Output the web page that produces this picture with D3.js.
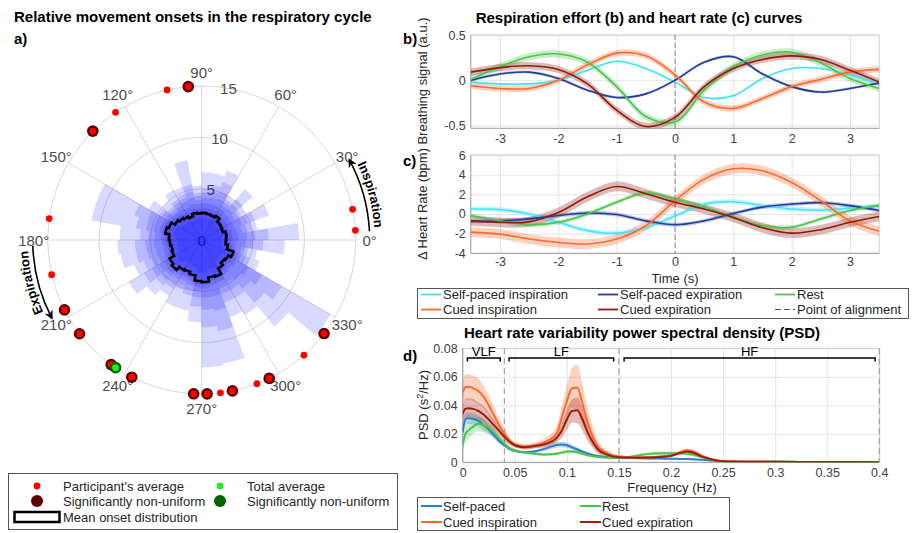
<!DOCTYPE html>
<html lang="en">
<head>
  <meta charset="UTF-8">
  <title>Respiration, heart rate and movement onsets</title>
  <script src="https://d3js.org/d3.v7.min.js"></script>
  <style>
    body { margin: 0; background: #fff; }
    svg { display: block; font-family: "Liberation Sans", Arial, sans-serif; }
  </style>
</head>
<body>
  <svg id="fig" width="914" height="533"></svg>

  <script>
    // ---------- panel a: polar histogram of onsets ----------
    const binDeg = 10;
    // per-participant onset histograms (counts per 10 deg bin), drawn as translucent layers
    const histLayer1 = [9.5,5.5,7.0,5.0,6.5,5.0,7.2,6.6,6.6,5.3,7.9,5.5,5.6,5.0,6.0,10.9,10.9,8.0,8.2,8.0,7.0,8.2,7.0,6.3,7.0,7.0,8.0,12.4,12.2,8.0,8.4,11.0,14.5,6.0,5.5,8.1];
    const histLayer2 = [6.5,5.0,5.5,4.5,5.2,4.6,6.0,5.5,5.0,4.6,5.5,4.8,4.6,4.3,4.8,7.0,6.5,6.0,6.5,6.5,6.0,6.5,5.8,5.5,5.2,5.5,6.5,8.5,9.0,6.5,6.5,8.0,9.0,5.0,4.6,6.0];
    const histLayer3 = [5.2,4.5,4.8,4.2,4.6,4.3,5.0,4.8,4.6,4.3,4.8,4.4,4.3,4.0,4.5,5.6,5.5,5.2,5.5,5.4,5.2,5.6,5.2,5.0,4.8,5.0,5.6,6.8,7.0,5.6,5.6,6.2,6.8,4.6,4.3,5.0];
    const histLayer4 = [4.4,4.0,4.2,3.8,4.0,3.9,4.3,4.2,4.1,3.9,4.2,4.0,3.9,3.7,4.1,4.8,4.8,4.6,4.7,4.6,4.5,4.8,4.6,4.4,4.3,4.5,5.0,5.6,5.6,4.9,4.8,5.0,5.3,4.1,3.9,4.3];
    const histLayer5 = [3.6,3.5,3.4,3.3,3.4,3.5,3.6,3.6,3.6,3.5,3.6,3.4,3.5,3.5,3.7,4.1,4.2,4.0,3.9,3.8,3.9,4.2,4.3,4.0,3.9,4.1,4.6,4.8,4.5,4.4,4.0,3.8,3.9,3.8,3.4,3.3];
    const histLayer6 = [3.0,3.0,2.8,2.9,2.9,3.1,3.0,3.1,3.1,3.0,3.1,2.9,3.1,3.2,3.4,3.8,3.9,3.6,3.5,3.4,3.5,3.9,4.0,3.7,3.6,3.8,4.3,4.4,4.1,4.1,3.6,3.4,3.5,3.5,3.0,2.9];
    const histLayer7 = [2.6,2.6,2.4,2.5,2.5,2.7,2.6,2.6,2.7,2.6,2.7,2.5,2.7,2.8,3.0,3.3,3.4,3.1,3.0,2.9,3.0,3.4,3.5,3.2,3.1,3.3,3.8,3.9,3.5,3.6,3.1,2.8,2.9,3.1,2.5,2.4];
    const histLayer8 = [2.0,2.1,1.9,2.0,2.0,2.2,2.1,2.1,2.2,2.1,2.2,2.0,2.2,2.3,2.4,2.7,2.8,2.5,2.4,2.4,2.5,2.8,2.9,2.6,2.5,2.7,3.1,3.2,2.9,3.0,2.5,2.3,2.4,2.6,2.0,1.9];
    const meanOnset = [2.4,2.45,2.2,2.3,2.35,2.7,2.55,2.6,2.65,2.6,2.7,2.45,2.65,2.8,3.0,3.4,3.6,3.2,3.1,3.0,3.1,3.6,3.8,3.4,3.3,3.5,4.0,4.1,3.7,3.8,3.2,2.9,3.0,3.3,2.6,2.35];

    // participant average onset phase (deg) and whether the participant's distribution is non-uniform
    const participantAngles = [3.6, 11.5, 95, 103, 124, 135, 172, 193, 207, 217.5, 234, 243, 267, 272, 277, 281.5, 291, 296, 311.6, 322.6];
    const participantSig    = [0, 0, 1, 0, 0, 1, 0, 0, 1, 1, 1, 1, 1, 1, 0, 1, 0, 1, 0, 1];
    const totalAverageAngle = 236;
    const rTicks = [0, 5, 10, 15];
    const thetaTicks = [0, 30, 60, 90, 120, 150, 180, 210, 240, 270, 300, 330];

    // ---------- panels b, c: breathing and heart rate around movement onset ----------
    const timeS = [-3.5,-3,-2.5,-2,-1.5,-1,-0.5,0,0.5,1,1.5,2,2.5,3,3.5];
    const breathSelfIns = [-0.02,-0.04,-0.04,0.0,0.11,0.21,0.13,-0.02,-0.19,-0.17,0.02,0.13,0.13,0.06,-0.04];
    const breathSelfExp = [0.0,0.07,0.09,0.02,-0.11,-0.19,-0.15,0.0,0.2,0.26,0.07,-0.07,-0.13,-0.09,-0.03];
    const breathRest    = [0.01,0.15,0.26,0.29,0.2,-0.07,-0.40,-0.46,-0.11,0.15,0.28,0.31,0.19,0.02,-0.09];
    const breathCuedIns = [-0.06,-0.09,-0.09,0.0,0.17,0.30,0.27,0.06,-0.24,-0.31,-0.2,-0.07,0.01,0.09,0.12];
    const breathCuedExp = [0.09,0.14,0.16,0.12,-0.04,-0.33,-0.51,-0.41,-0.07,0.13,0.23,0.27,0.23,0.11,-0.02];
    const hrSelfIns = [0.5,0.45,0.0,-0.85,-1.7,-1.95,-1.4,-0.2,1.0,1.25,0.85,0.5,0.4,0.6,0.85];
    const hrSelfExp = [-0.75,-0.7,-0.5,-0.15,0.1,-0.05,-0.7,-1.1,-0.7,0.05,0.7,1.0,1.15,0.85,0.35];
    const hrRest    = [-0.15,-0.7,-1.1,-0.85,0.0,1.2,2.15,1.5,0.7,-0.35,-1.2,-1.35,-0.5,0.35,0.85];
    const hrCuedIns = [-1.85,-2.05,-2.55,-2.9,-3.05,-2.55,-1.2,1.35,3.55,4.6,4.4,3.2,1.35,-0.7,-1.75];
    const hrCuedExp = [-0.7,-0.85,-0.8,0.15,1.75,2.8,2.05,1.2,0.5,-0.35,-1.4,-1.95,-1.6,-0.85,-0.25];
    // half width of the shaded error band, same order as the series
    const breathBand = [0.012, 0.015, 0.04, 0.035, 0.04];
    const hrBand = [0.25, 0.2, 0.22, 0.5, 0.5];
    const curveNames = ['Self-paced inspiration', 'Self-paced expiration', 'Rest', 'Cued inspiration', 'Cued expiration'];
    const curveColors = ['#45e3f5', '#213f9b', '#4dc24d', '#fa6a2e', '#8e1c0e'];
    const timeTicks = [-3, -2, -1, 0, 1, 2, 3];
    const breathTicks = [-0.5, 0, 0.5];
    const hrTicks = [-4, -2, 0, 2, 4, 6];

    // ---------- panel d: HRV power spectral density ----------
    const freqHz = [0,0.0025,0.005,0.01,0.015,0.02,0.025,0.03,0.035,0.04,0.045,0.05,0.06,0.07,0.08,0.09,0.095,0.1,0.105,0.11,0.115,0.12,0.125,0.13,0.14,0.15,0.16,0.17,0.18,0.19,0.2,0.21,0.215,0.22,0.23,0.24,0.25,0.27,0.3,0.35,0.4];
    const psdSelf = [0.021,0.030,0.031,0.0305,0.029,0.026,0.023,0.019,0.015,0.012,0.0095,0.008,0.007,0.0078,0.0098,0.0122,0.0125,0.012,0.0105,0.009,0.0075,0.0062,0.0052,0.0045,0.0036,0.0032,0.003,0.0028,0.0027,0.0026,0.0025,0.0024,0.0023,0.0022,0.0018,0.0012,0.0007,0.0004,0.0003,0.0002,0.0001];
    const psdRest = [0.012,0.020,0.022,0.025,0.027,0.026,0.024,0.021,0.017,0.013,0.010,0.0085,0.0068,0.006,0.0055,0.006,0.0068,0.0075,0.0075,0.007,0.006,0.005,0.0043,0.0038,0.0032,0.003,0.0038,0.005,0.006,0.0063,0.0063,0.0062,0.006,0.0055,0.0035,0.0018,0.0008,0.0004,0.0003,0.0002,0.0001];
    const psdCuedIns = [0.049,0.0525,0.053,0.052,0.050,0.046,0.040,0.033,0.026,0.020,0.015,0.0125,0.011,0.012,0.0145,0.020,0.031,0.043,0.052,0.0525,0.041,0.028,0.018,0.011,0.006,0.004,0.0035,0.0033,0.0035,0.004,0.005,0.0075,0.0085,0.008,0.0045,0.002,0.0008,0.0004,0.0003,0.0002,0.0001];
    const psdCuedExp = [0.034,0.0375,0.038,0.0375,0.036,0.0335,0.030,0.026,0.022,0.018,0.0145,0.012,0.0105,0.0115,0.013,0.017,0.022,0.030,0.036,0.0365,0.030,0.021,0.014,0.009,0.005,0.0035,0.0033,0.0032,0.0033,0.0038,0.0045,0.0068,0.0075,0.007,0.004,0.0018,0.0007,0.0004,0.0003,0.0002,0.0001];
    const bandSelf = [0.004,0.004,0.004,0.004,0.004,0.0035,0.003,0.0025,0.002,0.0015,0.0012,0.001,0.001,0.001,0.0015,0.002,0.002,0.002,0.0018,0.0015,0.0012,0.001,0.0008,0.0007,0.0006,0.0005,0.0005,0.0005,0.0005,0.0005,0.0005,0.0005,0.0005,0.0005,0.0004,0.0003,0.0002,0.0001,0.0001,0.0001,0.0001];
    const bandRest = [0.006,0.006,0.006,0.005,0.005,0.005,0.004,0.003,0.0025,0.002,0.0015,0.0012,0.001,0.001,0.001,0.001,0.001,0.0012,0.0012,0.0012,0.001,0.001,0.0008,0.0007,0.0006,0.0006,0.0008,0.001,0.0012,0.0012,0.0012,0.0012,0.0012,0.0012,0.0008,0.0004,0.0003,0.0002,0.0001,0.0001,0.0001];
    const bandCuedIns = [0.008,0.009,0.009,0.009,0.009,0.008,0.007,0.006,0.005,0.004,0.003,0.002,0.002,0.002,0.003,0.005,0.008,0.011,0.014,0.016,0.014,0.010,0.007,0.004,0.002,0.001,0.001,0.001,0.001,0.001,0.001,0.0012,0.0012,0.0012,0.001,0.0005,0.0003,0.0002,0.0001,0.0001,0.0001];
    const bandCuedExp = [0.006,0.007,0.007,0.007,0.006,0.006,0.005,0.004,0.003,0.003,0.002,0.0015,0.0015,0.0015,0.002,0.003,0.005,0.007,0.008,0.009,0.008,0.006,0.004,0.003,0.0015,0.001,0.001,0.001,0.001,0.001,0.001,0.001,0.001,0.001,0.0008,0.0004,0.0003,0.0002,0.0001,0.0001,0.0001];
    const psdNames = ['Self-paced', 'Rest', 'Cued inspiration', 'Cued expiration'];
    const psdColors = ['#2b80c8', '#4dc24d', '#fa6a2e', '#a01d0c'];
    const freqTicks = [0, 0.05, 0.1, 0.15, 0.2, 0.25, 0.3, 0.35, 0.4];
    const psdTicks = [0, 0.02, 0.04, 0.06, 0.08];
    const bandNames = ['VLF', 'LF', 'HF'];
    const bandStart = [0.0045, 0.0445, 0.155];
    const bandEnd = [0.036, 0.145, 0.396];
    const bandEdges = [0.04, 0.15, 0.4];

    const svg = d3.select('#fig');
    svg.append('rect').attr('width', 914).attr('height', 533).attr('fill', '#fff');

    function label(x, y, str, size, weight, anchor) {
      return svg.append('text').attr('x', x).attr('y', y).text(str)
        .attr('font-size', size).attr('font-weight', weight || 'normal')
        .attr('text-anchor', anchor || 'start').attr('fill', '#000');
    }

    // titles and panel letters
    label(14, 22, 'Relative movement onsets in the respiratory cycle', 15, 'bold');
    label(14, 44, 'a)', 15, 'bold');
    label(639, 23, 'Respiration effort (b) and heart rate (c) curves', 15, 'bold', 'middle');
    label(403, 44, 'b)', 15, 'bold');
    label(403, 166, 'c)', 15, 'bold');
    label(642, 338, 'Heart rate variability power spectral density (PSD)', 15, 'bold', 'middle');
    label(403, 361, 'd)', 15, 'bold');

    // ================= panel a =================
    const cx = 201.7, cy = 240;
    const rs = d3.scaleLinear().domain([0, 15]).range([0, 154]);
    const ang = deg => (90 - deg) * Math.PI / 180;   // d3 radial angle from math degrees
    const polar = svg.append('g').attr('transform', `translate(${cx},${cy})`);

    // grid
    polar.selectAll('circle.grid').data(rTicks.slice(1)).join('circle')
      .attr('r', d => rs(d)).attr('fill', 'none').attr('stroke', '#d6d6d6');
    polar.selectAll('line.spoke').data(thetaTicks).join('line')
      .attr('x1', 0).attr('y1', 0)
      .attr('x2', d => rs(15) * Math.cos(d * Math.PI / 180))
      .attr('y2', d => -rs(15) * Math.sin(d * Math.PI / 180))
      .attr('stroke', '#d6d6d6');
    polar.selectAll('text.rlab').data(rTicks).join('text')
      .attr('x', d => rs(d) * Math.cos(80 * Math.PI / 180))
      .attr('y', d => -rs(d) * Math.sin(80 * Math.PI / 180))
      .attr('text-anchor', 'middle').attr('dominant-baseline', 'central')
      .attr('font-size', 15).attr('fill', '#4d4d4d').text(d => d);
    polar.selectAll('text.tlab').data(thetaTicks).join('text')
      .attr('x', d => 168 * Math.cos(d * Math.PI / 180))
      .attr('y', d => -168 * Math.sin(d * Math.PI / 180))
      .attr('text-anchor', 'middle').attr('dominant-baseline', 'central')
      .attr('font-size', 15).attr('fill', '#4d4d4d').text(d => d + '°');

    // stair outline of a binned histogram
    function stairPoints(vals) {
      const pts = [];
      vals.forEach((v, i) => {
        for (let k = 0; k <= 4; k++) pts.push([ang(i * binDeg + k * binDeg / 4), rs(v)]);
      });
      return pts;
    }
    const radial = d3.lineRadial().angle(d => d[0]).radius(d => d[1]).curve(d3.curveLinearClosed);

    const layers = [histLayer1, histLayer2, histLayer3, histLayer4, histLayer5, histLayer6, histLayer7, histLayer8];
    polar.selectAll('path.layer').data(layers).join('path')
      .attr('d', d => radial(stairPoints(d)))
      .attr('fill', '#0000ff').attr('fill-opacity', 0.15).attr('stroke', 'none');
    polar.append('path').attr('d', radial(stairPoints(meanOnset)))
      .attr('fill', 'none').attr('stroke', '#000').attr('stroke-width', 2.6).attr('stroke-linejoin', 'miter');

    // participant averages on the outer ring
    const ptXY = a => [rs(15) * Math.cos(a * Math.PI / 180), -rs(15) * Math.sin(a * Math.PI / 180)];
    const parts = participantAngles.map((a, i) => ({ a, sig: participantSig[i] }));
    polar.selectAll('circle.sig').data(parts.filter(p => p.sig)).join('circle')
      .attr('cx', d => ptXY(d.a)[0]).attr('cy', d => ptXY(d.a)[1])
      .attr('r', 5.8).attr('fill', '#5e0000');
    polar.selectAll('circle.avg').data(parts).join('circle')
      .attr('cx', d => ptXY(d.a)[0]).attr('cy', d => ptXY(d.a)[1])
      .attr('r', 3.4).attr('fill', '#ff0000');
    const tot = ptXY(totalAverageAngle);
    polar.append('circle').attr('cx', tot[0]).attr('cy', tot[1]).attr('r', 5.8).attr('fill', '#006400');
    polar.append('circle').attr('cx', tot[0]).attr('cy', tot[1]).attr('r', 3.4).attr('fill', '#22ee22');

    // curved arrows: inspiration / expiration
    const defs = svg.append('defs');
    defs.append('marker').attr('id', 'head').attr('viewBox', '0 0 10 10')
      .attr('refX', 8).attr('refY', 5).attr('markerWidth', 9).attr('markerHeight', 9)
      .attr('markerUnits', 'userSpaceOnUse').attr('orient', 'auto')
      .append('path').attr('d', 'M0,0 L10,5 L0,10 L3,5 z').attr('fill', '#000');
    function arcPath(r, fromDeg, toDeg) {
      const p = d3.path();
      const s = -fromDeg * Math.PI / 180, e = -toDeg * Math.PI / 180;
      p.moveTo(r * Math.cos(s), r * Math.sin(s));
      p.arc(0, 0, r, s, e, e < s);
      return p.toString();
    }
    polar.append('path').attr('d', arcPath(168, 3, 28.5)).attr('fill', 'none')
      .attr('stroke', '#000').attr('stroke-width', 1.6).attr('marker-end', 'url(#head)');
    polar.append('path').attr('d', arcPath(169, 182, 207.5)).attr('fill', 'none')
      .attr('stroke', '#000').attr('stroke-width', 1.6).attr('marker-end', 'url(#head)');
    defs.append('path').attr('id', 'inspPath').attr('d', arcPath(173, 30, 0))
      .attr('transform', `translate(${cx},${cy})`);
    defs.append('path').attr('id', 'expPath').attr('d', arcPath(174, 208, 180))
      .attr('transform', `translate(${cx},${cy})`);
    [['inspPath', 'Inspiration'], ['expPath', 'Expiration']].forEach(([id, txt]) => {
      svg.append('text').attr('font-size', 13).attr('font-weight', 'bold')
        .append('textPath').attr('href', '#' + id).attr('startOffset', '50%')
        .attr('text-anchor', 'middle').text(txt);
    });

    // legend a
    svg.append('rect').attr('x', 8.5).attr('y', 473.5).attr('width', 389).attr('height', 56)
      .attr('fill', '#fff').attr('stroke', '#555');
    svg.append('circle').attr('cx', 37).attr('cy', 486).attr('r', 3.4).attr('fill', '#ff0000');
    svg.append('circle').attr('cx', 37).attr('cy', 501).attr('r', 6).attr('fill', '#5e0000');
    svg.append('circle').attr('cx', 220).attr('cy', 486).attr('r', 3.4).attr('fill', '#22ee22');
    svg.append('circle').attr('cx', 220).attr('cy', 501).attr('r', 6).attr('fill', '#006400');
    svg.append('rect').attr('x', 14.5).attr('y', 512).attr('width', 45).attr('height', 10)
      .attr('fill', 'none').attr('stroke', '#000').attr('stroke-width', 2.5);
    [['Participant\'s average', 63, 490.5], ['Significantly non-uniform', 63, 505.5], ['Mean onset distribution', 63, 521.5],
     ['Total average', 247, 490.5], ['Significantly non-uniform', 247, 505.5]].forEach(([t, x, y]) => {
      label(x, y, t, 13).attr('fill', '#262626');
    });

    // ================= shared axis frame =================
    function frame(x, y, xt, yt, fmtX, fmtY, pad) {
      const [xl, xr] = x.range(), [yb, yt0] = y.range();
      const g = svg.append('g');
      g.append('g').attr('transform', `translate(0,${yb})`)
        .call(d3.axisBottom(x).tickValues(xt).tickSize(-(yb - yt0)).tickPadding(pad).tickFormat(fmtX))
        .call(a => a.select('.domain').remove());
      g.append('g').attr('transform', `translate(${xl},0)`)
        .call(d3.axisLeft(y).tickValues(yt).tickSize(-(xr - xl)).tickPadding(5).tickFormat(fmtY))
        .call(a => a.select('.domain').remove());
      g.selectAll('.tick line').attr('stroke', '#e4e4e4');
      g.selectAll('g').attr('font-family', null).attr('font-size', 12.5);
      g.selectAll('.tick text').attr('fill', '#404040');
      g.append('line').attr('x1', xl).attr('x2', xr).attr('y1', yt0).attr('y2', yt0).attr('stroke', '#d0d0d0');
      g.append('line').attr('x1', xr).attr('x2', xr).attr('y1', yt0).attr('y2', yb).attr('stroke', '#d0d0d0');
      g.append('line').attr('x1', xl).attr('x2', xr).attr('y1', yb).attr('y2', yb).attr('stroke', '#9a9a9a');
      g.append('line').attr('x1', xl).attr('x2', xl).attr('y1', yt0).attr('y2', yb).attr('stroke', '#9a9a9a');
      return g;
    }
    const plain = d => String(d);

    function clip(id, x, y) {
      defs.append('clipPath').attr('id', id).append('rect')
        .attr('x', x.range()[0]).attr('y', y.range()[1])
        .attr('width', x.range()[1] - x.range()[0]).attr('height', y.range()[0] - y.range()[1]);
    }

    // ================= panels b and c =================
    const xT = d3.scaleLinear().domain([-3.5, 3.5]).range([470.8, 879.2]);
    const yB = d3.scaleLinear().domain([-0.53, 0.5]).range([128.3, 35]);
    const yC = d3.scaleLinear().domain([-4, 6]).range([253.3, 155]);

    function timePanel(y, series, bands, clipId, yTicks, pad) {
      frame(xT, y, timeTicks, yTicks, plain, plain, pad);
      clip(clipId, xT, y);
      svg.append('line').attr('x1', xT(0)).attr('x2', xT(0)).attr('y1', y.range()[1]).attr('y2', y.range()[0])
        .attr('stroke', '#8a8a8a').attr('stroke-dasharray', '5,3');
      const g = svg.append('g').attr('clip-path', `url(#${clipId})`);
      series.forEach((vals, s) => {
        const area = d3.area().x((d, i) => xT(timeS[i]))
          .y0(d => y(d - bands[s])).y1(d => y(d + bands[s])).curve(d3.curveCatmullRom);
        g.append('path').attr('d', area(vals)).attr('fill', curveColors[s]).attr('fill-opacity', 0.3);
      });
      series.forEach((vals, s) => {
        const line = d3.line().x((d, i) => xT(timeS[i])).y(d => y(d)).curve(d3.curveCatmullRom);
        g.append('path').attr('d', line(vals)).attr('fill', 'none')
          .attr('stroke', curveColors[s]).attr('stroke-width', 1.6);
      });
    }
    timePanel(yB, [breathSelfIns, breathSelfExp, breathRest, breathCuedIns, breathCuedExp], breathBand, 'clipB', breathTicks, 6);
    timePanel(yC, [hrSelfIns, hrSelfExp, hrRest, hrCuedIns, hrCuedExp], hrBand, 'clipC', hrTicks, 4);

    function ylabel(x, y, str) {
      return svg.append('text').attr('transform', `translate(${x},${y}) rotate(-90)`)
        .attr('text-anchor', 'middle').attr('font-size', 13).attr('fill', '#262626').text(str);
    }
    ylabel(427, 81, 'Breathing signal (a.u.)');
    ylabel(427, 204, 'Δ Heart Rate (bpm)');
    label(675, 283, 'Time (s)', 13, 'normal', 'middle').attr('fill', '#262626');

    // legend b/c
    svg.append('rect').attr('x', 417.5).attr('y', 288.5).attr('width', 491).attr('height', 30)
      .attr('fill', '#fff').attr('stroke', '#555');
    const legPos = [[421, 294.5], [598, 294.5], [775, 294.5], [421, 309.5], [598, 309.5]];
    [0, 1, 2, 3, 4].forEach(s => {
      const [lx, ly] = legPos[s];
      svg.append('line').attr('x1', lx).attr('x2', lx + 20).attr('y1', ly).attr('y2', ly)
        .attr('stroke', curveColors[s]).attr('stroke-width', 1.8);
      label(lx + 22, ly + 4.5, curveNames[s], 13).attr('fill', '#262626');
    });
    svg.append('line').attr('x1', 775).attr('x2', 795).attr('y1', 309.5).attr('y2', 309.5)
      .attr('stroke', '#555').attr('stroke-dasharray', '6,3');
    label(797, 314, 'Point of alignment', 13).attr('fill', '#262626');

    // ================= panel d =================
    const xF = d3.scaleLinear().domain([0, 0.4]).range([462.7, 879.3]);
    const yP = d3.scaleLinear().domain([0, 0.08]).range([462.3, 348.3]);
    frame(xF, yP, freqTicks, psdTicks, plain, plain, 6);
    clip('clipD', xF, yP);
    svg.selectAll('line.edge').data(bandEdges).join('line')
      .attr('x1', d => xF(d)).attr('x2', d => xF(d)).attr('y1', yP(0.08)).attr('y2', yP(0))
      .attr('stroke', '#a0a0a0').attr('stroke-dasharray', '6,4').attr('stroke-width', 1.2);
    const gd = svg.append('g').attr('clip-path', 'url(#clipD)');
    const psdSeries = [psdSelf, psdRest, psdCuedIns, psdCuedExp];
    const psdBands = [bandSelf, bandRest, bandCuedIns, bandCuedExp];
    psdSeries.forEach((vals, s) => {
      const area = d3.area().x((d, i) => xF(freqHz[i]))
        .y0((d, i) => yP(Math.max(0, d - psdBands[s][i]))).y1((d, i) => yP(d + psdBands[s][i]))
        .curve(d3.curveMonotoneX);
      gd.append('path').attr('d', area(vals)).attr('fill', psdColors[s]).attr('fill-opacity', 0.3);
    });
    psdSeries.forEach((vals, s) => {
      const line = d3.line().x((d, i) => xF(freqHz[i])).y(d => yP(d)).curve(d3.curveMonotoneX);
      gd.append('path').attr('d', line(vals)).attr('fill', 'none')
        .attr('stroke', psdColors[s]).attr('stroke-width', 2);
    });
    // frequency band brackets
    bandNames.forEach((n, i) => {
      const x0 = xF(bandStart[i]), x1 = xF(bandEnd[i]), yb = 358;
      svg.append('path').attr('d', `M${x0},${yb + 3.5} L${x0},${yb} L${x1},${yb} L${x1},${yb + 3.5}`)
        .attr('fill', 'none').attr('stroke', '#000').attr('stroke-width', 1.5);
      label((x0 + x1) / 2, 356, n, 13, 'normal', 'middle');
    });
    const psdLab = svg.append('text').attr('transform', 'translate(428,405) rotate(-90)')
      .attr('text-anchor', 'middle').attr('font-size', 13).attr('fill', '#262626');
    psdLab.append('tspan').text('PSD  (s');
    psdLab.append('tspan').attr('font-size', 9).attr('dy', -5).text('2');
    psdLab.append('tspan').attr('dy', 5).text('/Hz)');
    label(672, 492, 'Frequency (Hz)', 13, 'normal', 'middle').attr('fill', '#262626');

    // legend d
    svg.append('rect').attr('x', 417.5).attr('y', 497.5).attr('width', 312).attr('height', 33)
      .attr('fill', '#fff').attr('stroke', '#555');
    const legD = [[421, 506], [580, 506], [421, 522], [580, 522]];
    psdNames.forEach((n, s) => {
      const [lx, ly] = legD[s];
      svg.append('line').attr('x1', lx).attr('x2', lx + 21).attr('y1', ly).attr('y2', ly)
        .attr('stroke', psdColors[s]).attr('stroke-width', 2);
      label(lx + 22, ly + 4.5, n, 13).attr('fill', '#262626');
    });
  </script>
</body>
</html>
